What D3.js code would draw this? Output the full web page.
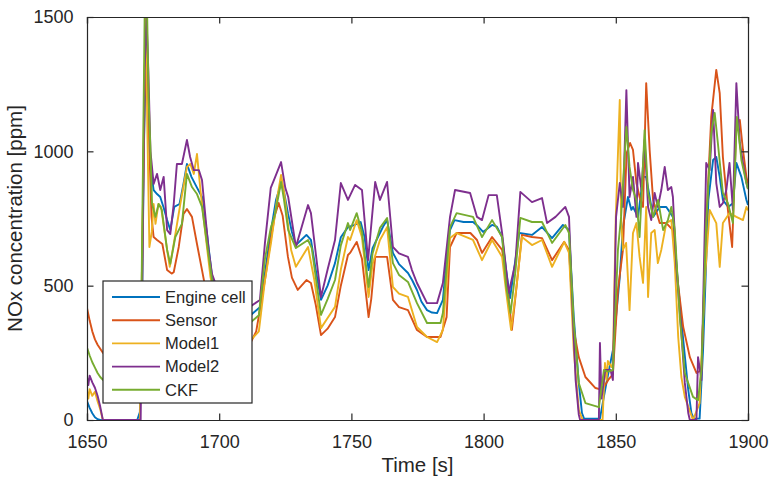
<!DOCTYPE html>
<html>
<head>
<meta charset="utf-8">
<script src="https://cdn.jsdelivr.net/npm/d3@7"></script>
<style>
  body { margin: 0; background: #fff; }
  text { font-family: "Liberation Sans", Arial, sans-serif; fill: #262626; }
</style>
</head>
<body>
<svg width="769" height="481"></svg>
<script>
// NOx concentration, [time s, ppm]
var seriesNames = ["Engine cell", "Sensor", "Model1", "Model2", "CKF"];
var seriesColors = ["#0072BD", "#D95319", "#EDB120", "#7E2F8E", "#77AC30"];
var xTicks = [1650, 1700, 1750, 1800, 1850, 1900];
var yTicks = [0, 500, 1000, 1500];

var engineCell = [[1650,70],[1651,45],[1652,25],[1653,10],[1654,3],[1655,0],[1669,0],[1670,30],[1670.8,400],[1671.5,1000],[1672.3,1380],[1672.7,1425],[1673.3,1128],[1674,942],[1675.2,856],[1676.5,841],[1677.7,830],[1679,790],[1680.3,744],[1681.5,707],[1683,793],[1685,804],[1686.5,880],[1687.8,953],[1689.5,905],[1691.5,867],[1693.5,830],[1695.4,692],[1697.3,532],[1700,430],[1703,380],[1706,360],[1709,370],[1712,391],[1715.4,420],[1717.3,547],[1719.5,700],[1721.5,820],[1723.4,880],[1724.5,850],[1726,770],[1727.5,700],[1729,651],[1731,670],[1733,689],[1734.7,670],[1736.5,560],[1738.5,447],[1741,500],[1743.8,584],[1746,680],[1748.7,718],[1751,725],[1753.5,737],[1755,680],[1756.5,558],[1758,640],[1760.8,696],[1762,720],[1763.5,744],[1765.7,622],[1768,580],[1771.4,547],[1773,520],[1774.8,484],[1776.5,440],[1778.6,409],[1780.5,400],[1782.4,398],[1784.6,447],[1786,600],[1787.3,707],[1789,744],[1792.4,737],[1796,737],[1798,720],[1799.8,700],[1803.2,726],[1805,720],[1807,681],[1808.5,560],[1810,454],[1811.5,560],[1813.5,696],[1818.3,689],[1822.1,718],[1825.9,677],[1830,726],[1832.3,707],[1834.1,383],[1836,138],[1837.2,26],[1838,5],[1844,5],[1845,60],[1846.5,140],[1848.9,260],[1851.5,532],[1852.7,718],[1854.6,830],[1855.9,782],[1856.5,793],[1858.4,756],[1860.3,905],[1861.5,905],[1864.1,756],[1866.6,793],[1869.1,793],[1871.6,756],[1873.5,510],[1875.5,298],[1877.4,112],[1878.6,26],[1879.5,5],[1881.7,5],[1883,260],[1885,819],[1886.8,968],[1888,979],[1889.3,905],[1890.5,819],[1892.5,793],[1894.3,807],[1895.6,957],[1897.5,905],[1899.4,819],[1900,800]];

var sensor = [[1650,417],[1651,370],[1652,330],[1653,300],[1654,280],[1656,250],[1660,215],[1665,185],[1669,165],[1670.3,250],[1671,700],[1671.8,1200],[1672.5,1351],[1673.2,1128],[1674.4,756],[1675.2,681],[1676.5,670],[1678.5,655],[1680.3,558],[1682,545],[1682.8,550],[1684.7,644],[1686.5,767],[1687.8,785],[1689.7,756],[1691.6,655],[1693.5,558],[1695,480],[1697,400],[1700,340],[1703,300],[1706,285],[1709,280],[1712,290],[1714,330],[1717.3,521],[1719.5,670],[1721,760],[1722.5,808],[1724,760],[1726,607],[1727.5,530],[1729.7,484],[1733,521],[1734.7,510],[1736.5,430],[1738.5,316],[1741,340],[1743.8,383],[1746,500],[1748.7,614],[1749.5,622],[1752,663],[1754,600],[1756.5,383],[1757.5,450],[1759,607],[1763.5,607],[1765.7,447],[1768,420],[1771.4,409],[1774.8,335],[1778.6,309],[1783.7,309],[1786,383],[1787.3,644],[1789.8,696],[1795,696],[1797.5,670],[1799.4,622],[1803.2,681],[1807,633],[1809,500],[1810.7,335],[1812.5,500],[1814.5,689],[1818.3,681],[1822.1,677],[1825.9,595],[1830.5,663],[1832.3,633],[1834.1,335],[1836,234],[1838.5,160],[1842.3,119],[1844.8,112],[1847.2,150],[1848.9,170],[1850.8,484],[1852.7,633],[1854.1,994],[1855.4,1031],[1856.5,1005],[1857.8,882],[1859,830],[1860.3,793],[1861.5,1254],[1862.8,1005],[1864.1,819],[1866.6,733],[1869.1,733],[1871.6,707],[1873.5,510],[1875.5,346],[1878,234],[1880.5,175],[1882.4,186],[1884.2,733],[1886.1,1128],[1888,1303],[1889.3,1217],[1890.5,979],[1892.4,782],[1894,644],[1895.6,1105],[1896.9,1117],[1898.1,1005],[1899.4,905],[1900,880]];

var model1 = [[1650,110],[1650.5,80],[1651,115],[1652,90],[1653,105],[1654,70],[1655,40],[1656,0],[1670,0],[1670.8,500],[1671.6,1200],[1672.3,1500],[1672.8,1100],[1673.6,644],[1674.5,700],[1675.2,804],[1675.9,730],[1677,804],[1678,793],[1680.3,633],[1681.3,570],[1682.8,655],[1685.3,804],[1687.8,942],[1689.1,953],[1690.4,916],[1691.6,990],[1692.9,856],[1694.8,692],[1696.7,532],[1700,380],[1703,310],[1706,290],[1709,285],[1712,298],[1715,330],[1717.3,520],[1719.6,659],[1722,830],[1723.4,912],[1724.5,850],[1727.2,633],[1729,570],[1733.6,644],[1736,520],[1738.5,342],[1741,380],[1743.8,421],[1746,560],[1748.7,681],[1749.5,670],[1752,744],[1754,680],[1756.5,458],[1758,580],[1760.8,670],[1763.5,718],[1765.7,495],[1768,470],[1771.4,458],[1774.8,346],[1778.6,309],[1782.4,290],[1784.6,335],[1787.3,677],[1789.8,696],[1796,670],[1799.4,595],[1803.2,670],[1807,607],[1808.5,480],[1810.4,335],[1812.5,500],[1814.5,681],[1818.3,651],[1822.1,670],[1825.9,570],[1830.5,663],[1832.3,622],[1834.1,260],[1836,37],[1837.5,0],[1845,0],[1845.9,212],[1846.5,150],[1847,220],[1848.4,197],[1848.9,212],[1850,756],[1851.5,1191],[1852,756],[1852.7,633],[1853.9,659],[1855.2,409],[1856.5,696],[1857.8,733],[1859,607],[1860.3,510],[1861.5,793],[1862.2,458],[1863.4,696],[1864.7,707],[1865.9,584],[1867.2,633],[1869.1,733],[1871,744],[1872.3,584],[1873.6,309],[1874.8,160],[1876.1,86],[1879.2,0],[1881.7,63],[1883.6,510],[1885.5,782],[1886.8,756],[1888,733],[1889.3,570],[1890.5,733],[1893,770],[1895.6,756],[1898.1,744],[1899.4,793],[1900,780]];

var model2 = [[1650,160],[1650.5,130],[1651,165],[1652,140],[1653,120],[1654,90],[1655,50],[1656,0],[1670.3,0],[1671,600],[1671.8,1300],[1672.5,1500],[1673.2,1300],[1674,1000],[1675.2,879],[1676.5,916],[1677.7,856],[1679,905],[1680.3,707],[1681.5,692],[1682.8,804],[1684,953],[1685.9,953],[1687.8,1042],[1689,979],[1690.4,930],[1692.3,930],[1693.5,893],[1694.8,756],[1696,633],[1697.3,543],[1700,470],[1703,430],[1706,410],[1709,415],[1711.6,421],[1715.4,447],[1717.3,659],[1719.5,864],[1721,900],[1723.4,960],[1725,864],[1726.1,830],[1729,644],[1733.6,800],[1734.7,770],[1738.5,458],[1741,560],[1743.8,670],[1746,882],[1748.7,819],[1751.4,875],[1754,856],[1756.3,595],[1759,886],[1760.8,819],[1763.5,886],[1765.7,644],[1768,620],[1771.4,607],[1772.9,558],[1774.8,510],[1778.6,435],[1782.4,435],[1784.6,510],[1787.3,756],[1789.2,856],[1794.9,845],[1797.5,756],[1799.4,744],[1801.9,837],[1805,837],[1807,696],[1809.5,473],[1812,584],[1813.9,849],[1818.3,811],[1822.1,826],[1824,733],[1827.2,756],[1830.9,793],[1832.3,756],[1833.5,447],[1834.8,149],[1836,20],[1836.5,0],[1843.6,0],[1844,287],[1844.6,80],[1846,186],[1848,186],[1848.9,149],[1850.1,756],[1851.5,882],[1852.7,793],[1854,1228],[1855.2,830],[1856.5,905],[1857.8,756],[1858.4,957],[1859.7,856],[1860.9,1042],[1862.2,793],[1863.4,744],[1864.7,845],[1865.9,793],[1867.2,856],[1868.5,942],[1869.7,856],[1871,867],[1871.6,830],[1872.9,570],[1874.8,324],[1876.1,138],[1877.4,26],[1878,0],[1880.5,0],[1881.1,234],[1882.4,149],[1884.2,957],[1885.5,930],[1886.8,1154],[1888,882],[1889.3,793],[1890.5,807],[1891.8,856],[1893,957],[1894.3,782],[1895.6,1254],[1896.9,1031],[1898.1,957],[1899.4,882],[1900,860]];

var ckf = [[1650,270],[1651,240],[1652,215],[1653,195],[1654,175],[1655,160],[1658,130],[1662,105],[1666,85],[1669,75],[1670.3,200],[1671,800],[1671.8,1500],[1672.5,1650],[1673.3,1200],[1674,1005],[1674.6,804],[1675.9,756],[1677.1,804],[1678.3,782],[1680.3,633],[1681.5,581],[1683.4,681],[1685.9,730],[1687.8,916],[1689.7,867],[1691.6,841],[1693.5,793],[1695.4,655],[1697.3,521],[1700,410],[1703,360],[1706,340],[1709,345],[1711.6,361],[1715,390],[1717.3,600],[1719.5,715],[1721,760],[1723.4,886],[1724.5,820],[1726.1,707],[1729,640],[1733.6,670],[1735,640],[1738.5,391],[1741,450],[1743.8,521],[1746,650],[1748.7,733],[1749.5,707],[1752,770],[1754,700],[1756.5,495],[1758,620],[1760.8,715],[1763.5,752],[1765.7,584],[1768,540],[1771.4,514],[1774.8,435],[1778.6,361],[1783.7,361],[1784.6,398],[1787.3,718],[1789.8,770],[1796,756],[1799.4,681],[1803.2,744],[1807,681],[1808.5,500],[1810.2,398],[1812,550],[1813.9,752],[1818.3,737],[1822.1,737],[1825.9,659],[1830.9,726],[1832.3,696],[1834.1,361],[1836,138],[1838.5,63],[1843.6,48],[1844.6,120],[1845.5,186],[1847,180],[1848.9,186],[1850.8,633],[1852,756],[1854,1091],[1855.2,942],[1856.5,856],[1857.8,819],[1859,681],[1860.9,1079],[1862.2,845],[1864.1,756],[1866,819],[1867.9,707],[1869.7,744],[1871,793],[1872.3,707],[1874.2,383],[1876.1,175],[1879.2,86],[1881.1,74],[1882.4,186],[1884.2,733],[1886.1,1068],[1887.4,1143],[1888.6,1031],[1890.5,845],[1892.4,807],[1894.3,733],[1895.8,1128],[1897.5,968],[1899.4,882],[1900,860]];

var allSeries = [engineCell, sensor, model1, model2, ckf];

var svg = d3.select("svg"),
    margin = {top: 17, right: 21, bottom: 61, left: 87},
    width = +svg.attr("width") - margin.left - margin.right,
    height = +svg.attr("height") - margin.top - margin.bottom,
    g = svg.append("g").attr("transform", "translate(" + margin.left + "," + margin.top + ")");

var x = d3.scaleLinear().domain([1650, 1900]).range([0, width]);
var y = d3.scaleLinear().domain([0, 1500]).range([height, 0]);
var axisColor = "#262626";

g.append("clipPath").attr("id", "clip")
  .append("rect").attr("width", width).attr("height", height);

var line = d3.line()
    .x(function(d) { return x(d[0]); })
    .y(function(d) { return y(d[1]); });

g.append("g").attr("clip-path", "url(#clip)")
  .selectAll("path")
  .data(allSeries)
  .enter().append("path")
    .attr("d", line)
    .attr("fill", "none")
    .attr("stroke", function(d, i) { return seriesColors[i]; })
    .attr("stroke-width", 1.9)
    .attr("stroke-linejoin", "round");

// axes, ticks pointing inward on all four sides
var tickLen = 6.5;
var xBottom = g.append("g").attr("transform", "translate(0," + height + ")")
    .call(d3.axisBottom(x).tickValues(xTicks).tickSize(-tickLen).tickPadding(tickLen + 9).tickFormat(d3.format("d")));
var xTop = g.append("g")
    .call(d3.axisTop(x).tickValues(xTicks).tickSize(-tickLen).tickFormat(""));
var yLeft = g.append("g")
    .call(d3.axisLeft(y).tickValues(yTicks).tickSize(-tickLen).tickPadding(tickLen + 7).tickFormat(d3.format("d")));
var yRight = g.append("g").attr("transform", "translate(" + width + ",0)")
    .call(d3.axisRight(y).tickValues(yTicks).tickSize(-tickLen).tickFormat(""));

[xBottom, xTop, yLeft, yRight].forEach(function(a) {
  a.select(".domain").attr("stroke", axisColor).attr("stroke-width", 1.2);
  a.selectAll(".tick line").attr("stroke", axisColor).attr("stroke-width", 1.2);
  a.selectAll(".tick text").attr("fill", axisColor).style("font-size", "18px");
});

g.append("text")
    .attr("x", width / 2)
    .attr("y", height + 52)
    .attr("text-anchor", "middle")
    .style("font-size", "20.5px")
    .text("Time [s]");

g.append("text")
    .attr("transform", "translate(" + (-65) + "," + (height / 2) + ") rotate(-90)")
    .attr("text-anchor", "middle")
    .style("font-size", "20.5px")
    .text("NOx concentration [ppm]");

// legend
var legend = g.append("g").attr("transform", "translate(16,264)");
legend.append("rect")
    .attr("width", 149)
    .attr("height", 122)
    .attr("fill", "#fff")
    .attr("stroke", axisColor)
    .attr("stroke-width", 1.2);

var item = legend.selectAll(".item")
  .data(seriesNames)
  .enter().append("g")
    .attr("class", "item")
    .attr("transform", function(d, i) { return "translate(0," + (16 + i * 23.2) + ")"; });

item.append("line")
    .attr("x1", 9).attr("x2", 57)
    .attr("stroke", function(d, i) { return seriesColors[i]; })
    .attr("stroke-width", 1.9);

item.append("text")
    .attr("x", 62)
    .attr("dy", "0.35em")
    .style("font-size", "16.5px")
    .text(function(d) { return d; });
</script>
</body>
</html>
